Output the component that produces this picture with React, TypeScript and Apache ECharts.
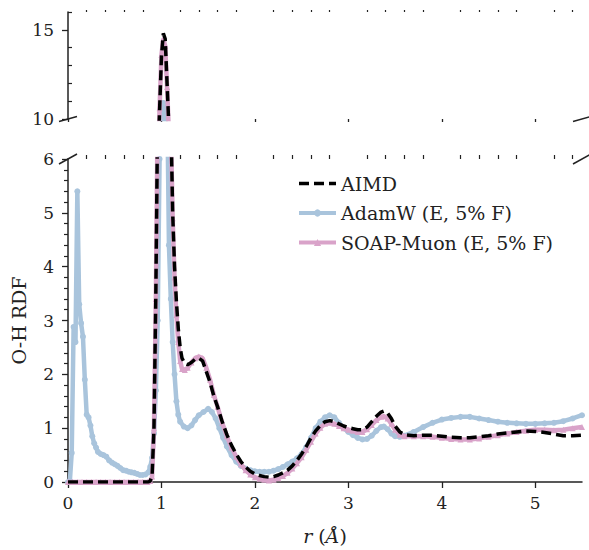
import React, { useEffect, useRef } from 'react';
import * as echarts from 'echarts';

// ---- data (r in Å, RDF values) ----
const aimd: [number, number][] = [
  [0, 0], [0.1, 0], [0.2, 0], [0.3, 0], [0.4, 0], [0.5, 0], [0.6, 0], [0.7, 0], [0.8, 0], [0.86, 0],
  [0.88, 0.02], [0.9, 0.12], [0.92, 1.0], [0.94, 3.5], [0.96, 7.0], [0.98, 10.5], [1.0, 13.5], [1.02, 14.8],
  [1.04, 14.5], [1.06, 12.0], [1.08, 9.5], [1.1, 6.8], [1.12, 5.0], [1.14, 4.0], [1.16, 3.35], [1.18, 2.85],
  [1.2, 2.5], [1.22, 2.3], [1.25, 2.2], [1.28, 2.18], [1.32, 2.22], [1.36, 2.28], [1.4, 2.3], [1.44, 2.25],
  [1.48, 2.05], [1.52, 1.85], [1.56, 1.6], [1.6, 1.4], [1.65, 1.12], [1.7, 0.88], [1.75, 0.68], [1.8, 0.52],
  [1.85, 0.38], [1.9, 0.28], [1.95, 0.2], [2.0, 0.15], [2.05, 0.12], [2.1, 0.1], [2.15, 0.09], [2.2, 0.1],
  [2.25, 0.13], [2.3, 0.17], [2.35, 0.22], [2.4, 0.3], [2.45, 0.4], [2.5, 0.52], [2.55, 0.66], [2.6, 0.82],
  [2.65, 0.95], [2.7, 1.05], [2.75, 1.12], [2.8, 1.14], [2.85, 1.12], [2.9, 1.08], [2.95, 1.04], [3.0, 1.01],
  [3.05, 0.99], [3.1, 0.97], [3.15, 0.97], [3.2, 1.02], [3.25, 1.12], [3.3, 1.22], [3.35, 1.3], [3.38, 1.32],
  [3.42, 1.28], [3.46, 1.18], [3.5, 1.04], [3.55, 0.93], [3.6, 0.88], [3.7, 0.86], [3.8, 0.87], [3.9, 0.87],
  [4.0, 0.85], [4.1, 0.83], [4.2, 0.82], [4.3, 0.82], [4.4, 0.84], [4.5, 0.86], [4.6, 0.89], [4.7, 0.91],
  [4.8, 0.93], [4.9, 0.95], [5.0, 0.94], [5.1, 0.92], [5.2, 0.89], [5.3, 0.86], [5.4, 0.86], [5.5, 0.87],
];

const adamw: [number, number][] = [
  [0, 0], [0.02, 0.02], [0.04, 0.54], [0.06, 2.88], [0.08, 2.6], [0.1, 5.4], [0.12, 3.3], [0.14, 2.95],
  [0.16, 2.7], [0.18, 1.9], [0.2, 1.25], [0.22, 1.2], [0.24, 1.05], [0.26, 0.85], [0.28, 0.72], [0.3, 0.64],
  [0.32, 0.56], [0.35, 0.52], [0.38, 0.5], [0.41, 0.47], [0.44, 0.4], [0.47, 0.36], [0.5, 0.33], [0.53, 0.3],
  [0.56, 0.26], [0.59, 0.22], [0.62, 0.21], [0.65, 0.19], [0.68, 0.18], [0.71, 0.17], [0.74, 0.15], [0.77, 0.13],
  [0.8, 0.13], [0.83, 0.14], [0.86, 0.18], [0.88, 0.28], [0.9, 0.45], [0.92, 0.9], [0.94, 1.7], [0.96, 3.0],
  [0.98, 6.0], [1.0, 9.0], [1.02, 10.9], [1.04, 10.4], [1.06, 7.4], [1.08, 4.4], [1.1, 3.4], [1.12, 2.6],
  [1.14, 2.0], [1.16, 1.5], [1.18, 1.25], [1.2, 1.12], [1.24, 1.03], [1.28, 1.0], [1.32, 1.05], [1.36, 1.15],
  [1.4, 1.24], [1.45, 1.3], [1.5, 1.36], [1.54, 1.3], [1.58, 1.18], [1.62, 1.0], [1.66, 0.82], [1.7, 0.66],
  [1.75, 0.5], [1.8, 0.38], [1.85, 0.3], [1.9, 0.25], [1.95, 0.22], [2.0, 0.2], [2.05, 0.19], [2.1, 0.19],
  [2.15, 0.19], [2.2, 0.21], [2.25, 0.24], [2.3, 0.28], [2.35, 0.33], [2.4, 0.38], [2.45, 0.44], [2.5, 0.52],
  [2.55, 0.65], [2.6, 0.82], [2.65, 1.0], [2.7, 1.12], [2.75, 1.2], [2.8, 1.24], [2.85, 1.2], [2.9, 1.1],
  [2.95, 1.0], [3.0, 0.93], [3.05, 0.87], [3.1, 0.82], [3.15, 0.79], [3.2, 0.8], [3.25, 0.86], [3.3, 0.95],
  [3.35, 1.02], [3.38, 1.03], [3.42, 0.98], [3.46, 0.9], [3.5, 0.85], [3.55, 0.84], [3.6, 0.86], [3.7, 0.93],
  [3.8, 1.02], [3.9, 1.1], [4.0, 1.16], [4.1, 1.19], [4.2, 1.21], [4.3, 1.21], [4.4, 1.18], [4.5, 1.15],
  [4.6, 1.12], [4.7, 1.1], [4.8, 1.09], [4.9, 1.08], [5.0, 1.08], [5.1, 1.09], [5.2, 1.1], [5.3, 1.13],
  [5.4, 1.18], [5.5, 1.24],
];

const soapMuon: [number, number][] = [
  [0, 0], [0.05, 0], [0.1, 0], [0.15, 0], [0.2, 0], [0.25, 0], [0.3, 0], [0.35, 0], [0.4, 0], [0.45, 0],
  [0.5, 0], [0.55, 0], [0.6, 0], [0.65, 0], [0.7, 0], [0.75, 0], [0.8, 0], [0.85, 0], [0.88, 0.02],
  [0.9, 0.1], [0.92, 1.0], [0.94, 3.4], [0.96, 7.0], [0.98, 10.6], [1.0, 13.6], [1.02, 14.5], [1.04, 14.1],
  [1.06, 11.8], [1.08, 9.2], [1.1, 6.6], [1.12, 4.9], [1.14, 3.8], [1.16, 3.1], [1.18, 2.6], [1.2, 2.25],
  [1.22, 2.1], [1.25, 2.08], [1.28, 2.12], [1.32, 2.22], [1.36, 2.3], [1.4, 2.33], [1.44, 2.3], [1.48, 2.12],
  [1.52, 1.9], [1.56, 1.62], [1.6, 1.4], [1.65, 1.1], [1.7, 0.85], [1.75, 0.64], [1.8, 0.47], [1.85, 0.33],
  [1.9, 0.22], [1.95, 0.14], [2.0, 0.09], [2.05, 0.06], [2.1, 0.04], [2.15, 0.03], [2.2, 0.04], [2.25, 0.07],
  [2.3, 0.11], [2.35, 0.17], [2.4, 0.25], [2.45, 0.35], [2.5, 0.46], [2.55, 0.6], [2.6, 0.75], [2.65, 0.9],
  [2.7, 1.01], [2.75, 1.08], [2.8, 1.1], [2.85, 1.08], [2.9, 1.04], [2.95, 1.0], [3.0, 0.97], [3.05, 0.95],
  [3.1, 0.93], [3.15, 0.93], [3.2, 0.98], [3.25, 1.06], [3.3, 1.15], [3.35, 1.21], [3.38, 1.22], [3.42, 1.18],
  [3.46, 1.08], [3.5, 0.97], [3.55, 0.88], [3.6, 0.85], [3.7, 0.85], [3.8, 0.85], [3.9, 0.84], [4.0, 0.82],
  [4.1, 0.8], [4.2, 0.79], [4.3, 0.79], [4.4, 0.81], [4.5, 0.84], [4.6, 0.87], [4.7, 0.9], [4.8, 0.93],
  [4.9, 0.95], [5.0, 0.97], [5.1, 0.97], [5.2, 0.96], [5.3, 0.97], [5.4, 1.0], [5.5, 1.02],
];

// ---- ticks ----
const xMajorTicks = [0, 1, 2, 3, 4, 5];
const xMinorTicks = [0.2, 0.4, 0.6, 0.8, 1.2, 1.4, 1.6, 1.8, 2.2, 2.4, 2.6, 2.8, 3.2, 3.4, 3.6, 3.8, 4.2, 4.4, 4.6, 4.8, 5.2, 5.4];
const yTopMajorTicks = [10, 15];
const yTopMinorTicks = [11, 12, 13, 14, 16];

const seriesNames = ['AIMD', 'AdamW (E, 5% F)', 'SOAP-Muon (E, 5% F)'];

export default function App() {
  const ref = useRef<HTMLDivElement>(null);

  useEffect(() => {
    if (!ref.current) return;
    const chart = echarts.init(ref.current, null, { renderer: 'svg' });
    const font = 'DejaVu Serif';
    const ink = '#222222';
    const blue = '#a9c4dc';
    const pink = '#d9a3c9';
    const fs = 17;
    const fsName = 19;

    const L = 68, R = 582, TT = 12, TB = 119, BT = 159, BB = 482;

    const hiddenLabel = { show: false };
    const noSplit = { show: false };

    const makeSeries = (gridTop: boolean) => {
      const xi = gridTop ? 0 : 2;
      const yi = gridTop ? 0 : 2;
      return [
        {
          name: seriesNames[1], type: 'line', data: adamw, xAxisIndex: xi, yAxisIndex: yi,
          symbol: 'circle', symbolSize: 6, showSymbol: true, clip: true, z: 2,
          lineStyle: { color: blue, width: 4.5 }, itemStyle: { color: blue },
        },
        {
          name: seriesNames[2], type: 'line', data: soapMuon, xAxisIndex: xi, yAxisIndex: yi,
          symbol: 'triangle', symbolSize: 6, showSymbol: true, clip: true, z: 3,
          lineStyle: { color: pink, width: 4.5 }, itemStyle: { color: pink },
        },
        {
          name: seriesNames[0], type: 'line', data: aimd, xAxisIndex: xi, yAxisIndex: yi,
          symbol: 'none', showSymbol: false, clip: true, z: 4,
          lineStyle: { color: '#000000', width: 3.5, type: [10, 5] }, itemStyle: { color: '#000000' },
        },
      ];
    };

    const breakLine = (x1: number, y1: number, x2: number, y2: number) => ({
      type: 'line', shape: { x1, y1, x2, y2 }, style: { stroke: ink, lineWidth: 1.5 }, z: 100,
    });

    const option: any = {
      animation: false,
      backgroundColor: '#ffffff',
      textStyle: { fontFamily: font, color: ink },
      grid: [
        { left: L, top: TT, width: R - L, height: TB - TT },
        { left: L, top: BT, width: R - L, height: BB - BT },
      ],
      xAxis: [
        {
          type: 'value', gridIndex: 0, min: 0, max: 5.5,
          axisLine: { show: false },
          axisTick: { show: true, customValues: xMajorTicks, length: 3, lineStyle: { color: ink, width: 1.3 } },
          axisLabel: hiddenLabel, splitLine: noSplit,
        },
        {
          type: 'value', gridIndex: 0, min: 0, max: 5.5,
          axisLine: { show: false },
          axisTick: { show: true, customValues: xMinorTicks, length: 2, lineStyle: { color: ink, width: 1.2 } },
          axisLabel: hiddenLabel, splitLine: noSplit,
        },
        {
          type: 'value', gridIndex: 1, min: 0, max: 5.5,
          axisLine: { show: true, lineStyle: { color: ink, width: 1.5 } },
          axisTick: { show: true, customValues: xMajorTicks, length: 6, lineStyle: { color: ink, width: 1.3 } },
          axisLabel: { customValues: xMajorTicks, fontSize: fs, fontFamily: font, color: ink, margin: 12 },
          splitLine: noSplit,
          name: '{i|r} ({i|Å})', nameLocation: 'middle', nameGap: 44,
          nameTextStyle: {
            fontSize: fsName, fontFamily: font, color: ink,
            rich: { i: { fontStyle: 'italic', fontSize: fsName, fontFamily: font, color: ink } },
          },
        },
        {
          type: 'value', gridIndex: 1, min: 0, max: 5.5,
          axisLine: { show: false },
          axisTick: { show: true, customValues: xMinorTicks, length: 4, lineStyle: { color: ink, width: 1.2 } },
          axisLabel: hiddenLabel, splitLine: noSplit,
        },
      ],
      yAxis: [
        {
          type: 'value', gridIndex: 0, min: 10, max: 16,
          axisLine: { show: true, lineStyle: { color: ink, width: 1.5 } },
          axisTick: { show: true, customValues: yTopMajorTicks, length: 6, lineStyle: { color: ink, width: 1.3 } },
          axisLabel: { customValues: yTopMajorTicks, fontSize: fs, fontFamily: font, color: ink, margin: 14 },
          splitLine: noSplit,
        },
        {
          type: 'value', gridIndex: 0, min: 10, max: 16,
          axisLine: { show: false },
          axisTick: { show: true, customValues: yTopMinorTicks, length: 4, lineStyle: { color: ink, width: 1.2 } },
          axisLabel: hiddenLabel, splitLine: noSplit,
        },
        {
          type: 'value', gridIndex: 1, min: 0, max: 6, interval: 1,
          axisLine: { show: true, lineStyle: { color: ink, width: 1.5 } },
          axisTick: { show: true, length: 6, lineStyle: { color: ink, width: 1.3 } },
          minorTick: { show: true, splitNumber: 5, length: 4, lineStyle: { color: ink, width: 1.2 } },
          axisLabel: { fontSize: fs, fontFamily: font, color: ink, margin: 14 },
          splitLine: noSplit, minorSplitLine: { show: false },
          name: 'O-H RDF', nameLocation: 'middle', nameGap: 40,
          nameTextStyle: { fontSize: fsName, fontFamily: font, color: ink },
        },
      ],
      legend: {
        orient: 'vertical', left: 292, top: 169, itemGap: 10.5, itemWidth: 37, itemHeight: 9,
        data: [
          { name: seriesNames[0], itemStyle: { color: 'rgba(0,0,0,0)', borderWidth: 0 }, lineStyle: { width: 3.5 } },
          { name: seriesNames[1], lineStyle: { width: 4 } },
          { name: seriesNames[2], lineStyle: { width: 4 } },
        ],
        textStyle: { fontSize: fsName, fontFamily: font, color: ink },
      },
      series: [...makeSeries(true), ...makeSeries(false)],
      graphic: [
        breakLine(L - 9, TB + 2.5, L + 9, TB - 2.5),
        breakLine(R - 9, TB + 2.5, R + 9, TB - 2.5),
        breakLine(L - 9, BT + 5, L + 9, BT - 5),
        breakLine(R - 9, BT + 5, R + 9, BT - 5),
      ],
    };

    chart.setOption(option);
    return () => chart.dispose();
  }, []);

  return (
    <div
      ref={ref}
      style={{ position: 'absolute', left: 0, top: 0, width: 589, height: 550 }}
    />
  );
}
